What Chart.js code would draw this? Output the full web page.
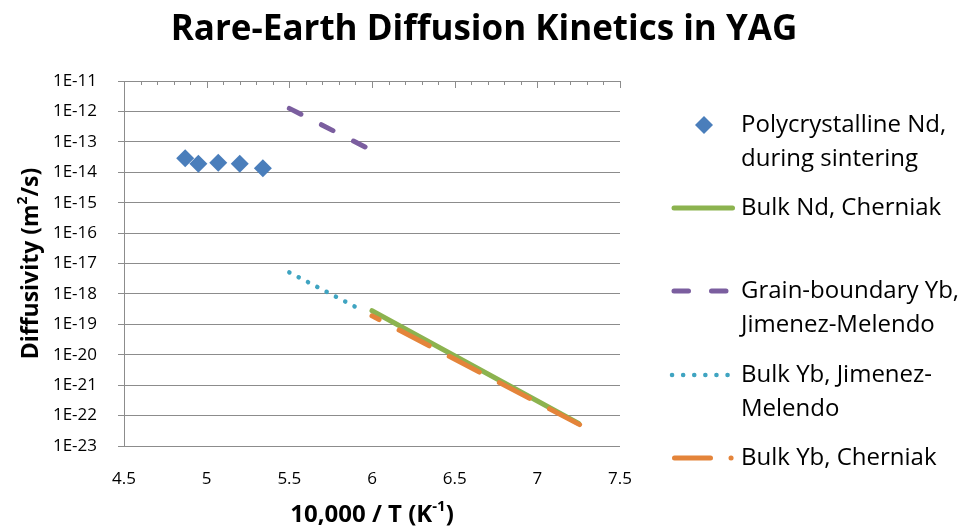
<!DOCTYPE html>
<html lang="en">
  <head>
    <meta charset="UTF-8" />
    <title>Rare-Earth Diffusion Kinetics in YAG</title>
    <script src="https://cdn.jsdelivr.net/npm/chart.js"></script>
    <style>
      html, body { margin: 0; padding: 0; background: #fff; }
    </style>
  </head>
  <body>
    <canvas id="diffChart" width="968" height="529"></canvas>
    <script>
      // values (x = 10,000 / T, y = diffusivity in m2/s)
      const polyNdX = [4.87, 4.95, 5.07, 5.2, 5.34];
      const polyNdY = [2.9e-14, 1.9e-14, 2.05e-14, 1.9e-14, 1.35e-14];
      const bulkNdX = [6.0, 7.25];
      const bulkNdY = [2.8e-19, 5.5e-23];
      const gbYbX = [5.5, 6.0];
      const gbYbY = [1.26e-12, 5.2e-14];
      const bulkYbJmX = [5.5, 5.95];
      const bulkYbJmY = [5.1e-18, 2.7e-19];
      const bulkYbChX = [6.0, 7.28];
      const bulkYbChY = [1.9e-19, 4.3e-23];

      const seriesLabels = [
        ["Polycrystalline Nd,", "during sintering"],
        ["Bulk Nd, Cherniak"],
        ["Grain-boundary Yb,", "Jimenez-Melendo"],
        ["Bulk Yb, Jimenez-", "Melendo"],
        ["Bulk Yb, Cherniak"],
      ];
      const xTickValues = [4.5, 5, 5.5, 6, 6.5, 7, 7.5];
      const xTickLabels = ["4.5", "5", "5.5", "6", "6.5", "7", "7.5"];
      const yTickValues = [1e-23, 1e-22, 1e-21, 1e-20, 1e-19, 1e-18, 1e-17, 1e-16, 1e-15, 1e-14, 1e-13, 1e-12, 1e-11];
      const yTickLabels = ["1E-23", "1E-22", "1E-21", "1E-20", "1E-19", "1E-18", "1E-17", "1E-16", "1E-15", "1E-14", "1E-13", "1E-12", "1E-11"];

      const FONT = '"Open Sans", "Liberation Sans", sans-serif';
      const GRID = "#8c8c8c";
      const colors = ["#4a7ebb", "#8cb34f", "#7b5e9f", "#3fa4c1", "#e4843a"];

      const pts = (xs, ys) => xs.map((x, i) => ({ x: x, y: ys[i] }));

      // text with superscript parts, centred on x
      function drawRuns(ctx, runs, x, y, size) {
        const widths = [];
        let total = 0;
        runs.forEach(([t, sup]) => {
          ctx.font = "bold " + (sup ? Math.round(size * 0.62) : size) + "px " + FONT;
          const w = ctx.measureText(t).width;
          widths.push(w);
          total += w;
        });
        let cx = x - total / 2;
        runs.forEach(([t, sup], i) => {
          ctx.font = "bold " + (sup ? Math.round(size * 0.62) : size) + "px " + FONT;
          ctx.fillText(t, cx, sup ? y - size * 0.33 : y);
          cx += widths[i];
        });
      }

      function sample(ctx, x1, x2, y, color, width, dash) {
        ctx.save();
        ctx.strokeStyle = color;
        ctx.lineWidth = width;
        ctx.lineCap = "round";
        ctx.setLineDash(dash);
        ctx.beginPath();
        ctx.moveTo(x1, y);
        ctx.lineTo(x2, y);
        ctx.stroke();
        ctx.restore();
      }

      const extras = {
        id: "extras",
        afterDraw(chart) {
          const ctx = chart.ctx;
          const area = chart.chartArea;
          const xs = chart.scales.x;
          const ds = chart.data.datasets;
          ctx.save();
          ctx.fillStyle = "#000";
          ctx.textBaseline = "middle";

          // title
          ctx.textAlign = "center";
          ctx.font = "bold 35px " + FONT;
          ctx.fillText("Rare-Earth Diffusion Kinetics in YAG", 484, 30);

          // horizontal axis sits on top of the plot: tick marks pointing in
          ctx.strokeStyle = GRID;
          ctx.lineWidth = 1;
          for (let k = 0; k <= 30; k++) {
            const px = Math.round(xs.getPixelForValue(4.5 + k * 0.1)) + 0.5;
            const len = k % 5 === 0 ? 7 : 4;
            ctx.beginPath();
            ctx.moveTo(px, area.top);
            ctx.lineTo(px, area.top + len);
            ctx.stroke();
          }

          // axis titles
          ctx.textAlign = "left";
          drawRuns(ctx, [["10,000 / T (K", false], ["-1", true], [")", false]], (area.left + area.right) / 2, 515, 24);
          ctx.save();
          ctx.translate(31, (area.top + area.bottom) / 2);
          ctx.rotate(-Math.PI / 2);
          drawRuns(ctx, [["Diffusivity (m", false], ["2", true], ["/s)", false]], 0, 0, 23);
          ctx.restore();

          // legend
          const rows = [125, 208, 291, 375, 458];
          ctx.font = "24px " + FONT;
          seriesLabels.forEach((lines, i) => {
            lines.forEach((t, j) => ctx.fillText(t, 741, rows[i] + j * 34));
          });
          // diamond
          ctx.fillStyle = ds[0].backgroundColor;
          ctx.beginPath();
          ctx.moveTo(704 - 9, rows[0]);
          ctx.lineTo(704, rows[0] - 9);
          ctx.lineTo(704 + 9, rows[0]);
          ctx.lineTo(704, rows[0] + 9);
          ctx.closePath();
          ctx.fill();
          sample(ctx, 674, 732.5, rows[1], ds[1].borderColor, ds[1].borderWidth, []);
          sample(ctx, 674, 726, rows[2], ds[2].borderColor, ds[2].borderWidth, [14.5, 23]);
          sample(ctx, 672, 731, rows[3], ds[3].borderColor, ds[3].borderWidth, [0.1, 11]);
          sample(ctx, 674.5, 732, rows[4], ds[4].borderColor, ds[4].borderWidth, [36, 20.5, 0.1, 30]);
          ctx.restore();
        },
      };

      new Chart(document.getElementById("diffChart"), {
        type: "scatter",
        data: {
          datasets: [
            {
              label: seriesLabels[0].join(" "),
              data: pts(polyNdX, polyNdY),
              backgroundColor: colors[0],
              borderColor: colors[0],
              pointStyle: "rectRot",
              pointRadius: 9,
              pointBorderWidth: 0,
              order: 5,
            },
            {
              label: seriesLabels[1].join(" "),
              data: pts(bulkNdX, bulkNdY),
              showLine: true,
              borderColor: colors[1],
              borderWidth: 5,
              borderCapStyle: "round",
              pointRadius: 0,
              order: 4,
            },
            {
              label: seriesLabels[2].join(" "),
              data: pts(gbYbX, gbYbY),
              showLine: true,
              borderColor: colors[2],
              borderWidth: 5,
              borderCapStyle: "round",
              borderDash: [13, 23],
              pointRadius: 0,
              order: 3,
            },
            {
              label: seriesLabels[3].join(" "),
              data: pts(bulkYbJmX, bulkYbJmY),
              showLine: true,
              borderColor: colors[3],
              borderWidth: 4.5,
              borderCapStyle: "round",
              borderDash: [0.1, 10.4],
              pointRadius: 0,
              order: 2,
            },
            {
              label: seriesLabels[4].join(" "),
              data: pts(bulkYbChX, bulkYbChY),
              showLine: true,
              borderColor: colors[4],
              borderWidth: 5,
              borderCapStyle: "round",
              borderDash: [34, 22.6],
              borderDashOffset: 26,
              pointRadius: 0,
              order: 1,
            },
          ],
        },
        options: {
          responsive: false,
          animation: false,
          devicePixelRatio: 1,
          layout: { padding: { top: 81, right: 348, left: 0, bottom: 0 } },
          plugins: { legend: { display: false }, tooltip: { enabled: false } },
          scales: {
            x: {
              type: "linear",
              min: 4.5,
              max: 7.5,
              afterBuildTicks: (s) => { s.ticks = xTickValues.map((v) => ({ value: v })); },
              ticks: {
                autoSkip: false,
                padding: 23,
                color: "#000",
                font: { family: FONT, size: 17 },
                callback: (v, i) => xTickLabels[i],
              },
              grid: { display: false, drawTicks: false },
              border: { display: false },
              afterFit: (s) => { s.height = 83; },
            },
            y: {
              type: "logarithmic",
              min: 1e-23,
              max: 1e-11,
              afterBuildTicks: (s) => { s.ticks = yTickValues.map((v) => ({ value: v })); },
              ticks: {
                autoSkip: false,
                padding: 21,
                color: "#000",
                font: { family: FONT, size: 17 },
                callback: (v, i) => yTickLabels[i],
              },
              grid: { color: GRID, lineWidth: 1, tickLength: 6 },
              border: { color: GRID, width: 1 },
              afterFit: (s) => { s.width = 124; },
            },
          },
        },
        plugins: [extras],
      });
    </script>
  </body>
</html>
